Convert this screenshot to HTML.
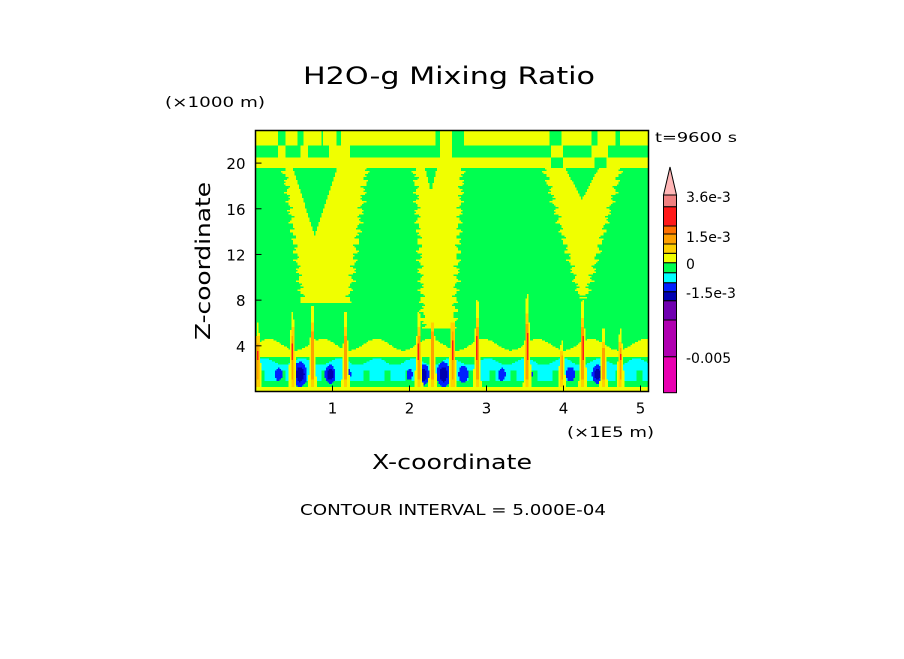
<!DOCTYPE html>
<html><head><meta charset="utf-8"><style>
html,body{margin:0;padding:0;background:#fff;}
svg text{font-family:"DejaVu Sans","Liberation Sans",sans-serif;fill:#000;}
</style></head><body>
<svg id="chart" width="904" height="654" viewBox="0 0 904 654" xmlns="http://www.w3.org/2000/svg">
<rect width="904" height="654" fill="#fff"/>
<text x="303" y="84" font-size="24" textLength="292" lengthAdjust="spacingAndGlyphs">H2O-g Mixing Ratio</text>
<text x="165" y="107" font-size="14" textLength="100" lengthAdjust="spacingAndGlyphs">(×1000 m)</text>
<text x="655" y="142" font-size="13" textLength="82" lengthAdjust="spacingAndGlyphs">t=9600 s</text>
<text x="567" y="437" font-size="14" textLength="87" lengthAdjust="spacingAndGlyphs">(×1E5 m)</text>
<text x="372" y="469" font-size="20" textLength="160" lengthAdjust="spacingAndGlyphs">X-coordinate</text>
<text transform="translate(210,340) rotate(-90)" font-size="20" textLength="158" lengthAdjust="spacingAndGlyphs">Z-coordinate</text>
<text x="300" y="515" font-size="15" textLength="306" lengthAdjust="spacingAndGlyphs">CONTOUR INTERVAL = 5.000E-04</text>
<g id="field"></g>
<rect x="255.5" y="130.5" width="393" height="261" fill="none" stroke="#000" stroke-width="1.5"/>
<g id="axes"></g>
<g id="cbar"></g>
</svg>
<script>
// ---- data ----
const xTicks = [1, 2, 3, 4, 5];
const zTicks = [4, 8, 12, 16, 20];
// V-shaped moist plumes: center x (1e5 m), half-width at top & bottom, bottom z (km)
const vCenters = [0.91, 2.38, 4.25];
const vTopHalfWidths = [0.54, 0.31, 0.50];
const vBottomHalfWidths = [0.30, 0.20, 0.04];
const vBottoms = [7.8, 5.5, 8.2];
// green notches inside V
const notchCenters = [0.77, 2.28, 4.24];
const notchHalfWidths = [0.29, 0.08, 0.22];
const notchBottoms = [13.7, 17.5, 16.8];
// convective streaks
const plumeX = [0.03, 0.48, 0.74, 1.17, 2.12, 2.30, 2.56, 2.88, 3.53, 3.98, 4.25, 4.52, 4.74];
const plumeTop = [6.0, 7.0, 7.5, 7.0, 7.0, 7.5, 7.5, 8.0, 8.5, 4.5, 8.0, 5.5, 5.5];
// dry blobs in boundary layer
const blobX = [0.30, 0.58, 0.97, 1.20, 2.00, 2.18, 2.44, 2.70, 3.20, 3.55, 4.09, 4.44];
const blobSize = [0.4, 1.0, 0.7, 0.3, 0.3, 0.8, 1.0, 0.6, 0.4, 0.4, 0.5, 0.7];
// gaps in upper moist layers
const topGaps = [[0.30,0.38],[0.55,0.62],[0.85,0.88],[1.05,1.12],[2.34,2.40],[2.55,2.70],[3.82,3.98],[4.36,4.45],[4.68,4.74]];
const midPatches = [[0.30,0.38],[0.58,0.68],[0.95,1.22],[2.40,2.55],[3.83,4.00],[4.36,4.57]];
const levelColors = ["#e800b0","#b000b0","#7000b0","#0000b0","#0020ff","#00ffff","#00ff50","#f0ff00","#ffd000","#ffa000","#ff7000","#ff1a1a","#f08080","#ffb6b6"];
const cbarLabels = ["3.6e-3","1.5e-3","0","-1.5e-3","-0.005"];
// ---- axes ----
const X0=255.5, X1=648.5, Y0=391.5, Y1=130.5;
const sx = v => X0 + v*77;
const sz = v => Y0 - v*11.42;
const NS="http://www.w3.org/2000/svg";
function mk(t,a,p){const e=document.createElementNS(NS,t);for(const k in a)e.setAttribute(k,a[k]);p.appendChild(e);return e;}
function field(x,z){
  let c=6;
  if(z<0.45) return 7;
  if(z>=21.5){c=7;for(const g of topGaps) if(x>=g[0]&&x<=g[1]) c=6;return c;}
  if(z>=20.5){c=6;for(const g of midPatches) if(x>=g[0]&&x<=g[1]) c=7;return c;}
  if(z>=19.6){c=7;for(const g of [[3.83,4.0],[4.4,4.55]]) if(x>=g[0]&&x<=g[1]) c=6;return c;}
  const rough=0.03*Math.sin(z*7.3)+0.02*Math.sin(z*17.1);
  for(let i=0;i<vCenters.length;i++){
    const zb=vBottoms[i];
    if(z>zb){const f=(z-zb)/(19.6-zb);const hw=vBottomHalfWidths[i]+(vTopHalfWidths[i]-vBottomHalfWidths[i])*f+rough; if(Math.abs(x-vCenters[i])<hw) c=7;}
    const nb=notchBottoms[i]; if(z>nb){const nw=notchHalfWidths[i]*(z-nb)/(19.6-nb); if(Math.abs(x-notchCenters[i])<nw) c=6;}
  }
  if(z>=3.0 && z<4.1+0.5*Math.sin(x*9)) c=7;
  if(z>=0.9 && z<2.6 + 0.3*Math.sin(x*13)) c=5;
  if(z>=0.9 && z<1.8 && Math.sin(x*23)>0.6) c=6;
  for(let i=0;i<blobX.length;i++){
    const dx=(x-blobX[i])/(0.07*blobSize[i]+0.02), dz=(z-1.5)/(0.9*blobSize[i]+0.2);
    if(dx*dx+dz*dz<1) c=4;
    if(dx*dx+dz*dz<0.35 && blobSize[i]>0.6) c=3;
  }
  for(let i=0;i<plumeX.length;i++){
    const d=Math.abs(x-plumeX[i]), h=plumeTop[i];
    if(z<h && d<0.045*(1-z/h)+0.012) c=7;
    if(z<h*0.8 && d<0.022) c=8;
    if(z<h*0.7 && z>1 && d<0.014) c=9;
    if(z>2.8 && z<h*0.6 && d<0.008) c=11;
  }
  return c;
}
const fg=document.getElementById('field');
const dx=1.5, dz=1.5;
for(let py=Y1; py<Y0; py+=dz){
  const z=(Y0-(py+dz/2))/11.42;
  let start=X0, cur=null;
  for(let px=X0; px<=X1; px+=dx){
    const c = px<X1 ? field((px+dx/2-X0)/77, z) : -1;
    if(c!==cur){
      if(cur!==null){
        const r=mk('rect',{x:start,y:py,width:px-start+0.5,height:dz+0.5,fill:levelColors[cur]},fg);
        
        
      }
      start=px; cur=c;
    }
  }
}
const ax=document.getElementById('axes');
xTicks.forEach(v=>{
  const l=mk('line',{x1:sx(v),x2:sx(v),y1:Y0,y2:Y0-6,stroke:'#000'},ax);
  
  
  const t=mk('text',{x:sx(v),y:Y0+22,'font-size':15,'text-anchor':'middle'},ax);
  
  
  t.textContent=v;
});
zTicks.forEach(v=>{
  const l=mk('line',{x1:X0,x2:X0+6,y1:sz(v),y2:sz(v),stroke:'#000'},ax);
  
  
  const t=mk('text',{x:X0-10,y:sz(v)+6,'font-size':15,'text-anchor':'end'},ax);
  
  
  t.textContent=v;
});
// colorbar
const cb=document.getElementById('cbar');
const bounds=[392.7,356.7,320,300.7,291.7,282.7,272.7,262.7,253.3,244,234,226,206.7,195];
for(let i=0;i<13;i++){
  const r=mk('rect',{x:663.5,y:bounds[i+1],width:13,height:bounds[i]-bounds[i+1],fill:levelColors[i],stroke:'#000','stroke-width':1},cb);
  
  
}
const tri=mk('polygon',{points:"663.5,195 676.5,195 670,167",fill:levelColors[13],stroke:'#000','stroke-width':1},cb);


const labY=[202,242,269,298,363];
cbarLabels.forEach((s,i)=>{
  const t=mk('text',{x:686,y:labY[i],'font-size':14},cb);
  
  
  t.textContent=s;
});
</script>
</body></html>
